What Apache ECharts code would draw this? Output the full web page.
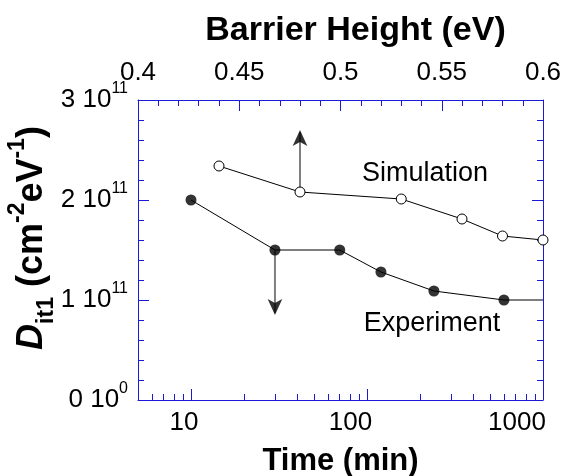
<!DOCTYPE html>
<html lang="en">
<head>
    <meta charset="UTF-8">
    <title>Dit1 vs time / barrier height</title>
    <script src="https://cdn.jsdelivr.net/npm/echarts@6.0.0/dist/echarts.min.js"></script>
    <style>
        html, body { margin: 0; padding: 0; background: #fff; }
        #chart { width: 569px; height: 476px; }
    </style>
</head>
<body>
    <div id="chart"></div>

    <script>
        // data
        const expTime = [10, 30, 70, 120, 240, 600];
        const expVal = [2.0e11, 1.5e11, 1.5e11, 1.28e11, 1.09e11, 1.0e11];
        const expTailTime = 1000;          // flat line continues to the right edge

        const simBarrier = [0.44, 0.48, 0.53, 0.56, 0.58, 0.60];
        const simVal = [2.34e11, 2.08e11, 2.01e11, 1.81e11, 1.64e11, 1.60e11];

        // arrows: [x, yFrom, yTo]
        const arrowSim = [0.48, 2.08e11, 2.78e11];
        const arrowExp = [30, 1.5e11, 0.77e11];

        const timeMajor = [10, 100, 1000];
        const timeMinor = [6, 7, 8, 9, 20, 30, 40, 50, 60, 70, 80, 90,
                           200, 300, 400, 500, 600, 700, 800, 900];

        const blue = '#1a1ad6';
        const font = 'Liberation Sans, Arial, sans-serif';

        const chart = echarts.init(document.getElementById('chart'));

        const expPts = expTime.map((t, i) => [t, expVal[i]]);
        const simPts = simBarrier.map((b, i) => [b, simVal[i]]);

        // grey pieces: flat steps between equal values, plus the tail
        const greyPieces = [];
        for (let i = 0; i < expVal.length - 1; i++) {
            if (expVal[i] === expVal[i + 1]) {
                greyPieces.push([expTime[i], expVal[i]], [expTime[i + 1], expVal[i + 1]], '-');
            }
        }
        const last = expVal.length - 1;
        greyPieces.push([expTime[last], expVal[last]], [expTailTime, expVal[last]]);

        const axisLineStyle = { show: true, lineStyle: { color: blue, width: 1 } };

        chart.setOption({
            animation: false,
            grid: { left: 138, right: 26, top: 100, bottom: 76, outerBoundsMode: 'none', containLabel: false },
            xAxis: [
                {   // time, major ticks
                    type: 'log', position: 'bottom', min: 5, max: 1000,
                    axisLine: axisLineStyle,
                    axisTick: { inside: true, length: 11, customValues: timeMajor, lineStyle: { color: blue } },
                    axisLabel: { show: false },
                    splitLine: { show: false },
                    name: 'Time (min)', nameLocation: 'middle', nameGap: 46, nameMoveOverlap: false,
                    nameTextStyle: { fontFamily: font, fontSize: 31, fontWeight: 'bold', color: '#000' }
                },
                {   // time, minor ticks
                    type: 'log', position: 'bottom', min: 5, max: 1000,
                    axisLine: { show: false },
                    axisTick: { inside: true, length: 6, customValues: timeMinor, lineStyle: { color: blue } },
                    axisLabel: { show: false },
                    splitLine: { show: false }
                },
                {   // time labels (placed where the original figure prints them)
                    type: 'log', position: 'bottom', min: 5.29, max: 1432,
                    axisLine: { show: false },
                    axisTick: { show: false },
                    axisLabel: {
                        customValues: timeMajor, margin: 10,
                        formatter: v => String(Math.round(v)),
                        fontFamily: font, fontSize: 26, color: '#000'
                    },
                    splitLine: { show: false }
                },
                {   // barrier height
                    type: 'value', position: 'top', min: 0.4, max: 0.6, interval: 0.05,
                    axisLine: axisLineStyle,
                    axisTick: { inside: true, length: 11, lineStyle: { color: blue } },
                    minorTick: { show: true, splitNumber: 5, length: 6, lineStyle: { color: blue } },
                    axisLabel: { margin: 14, fontFamily: font, fontSize: 26, color: '#000' },
                    splitLine: { show: false },
                    name: 'Barrier Height (eV)', nameLocation: 'middle', nameGap: 52, nameMoveOverlap: false,
                    nameTextStyle: {
                        fontFamily: font, fontSize: 34, fontWeight: 'bold', color: '#000',
                        padding: [0, 0, 0, 30]
                    }
                }
            ],
            yAxis: [
                {
                    type: 'value', position: 'left', min: 0, max: 3e11, interval: 1e11,
                    axisLine: axisLineStyle,
                    axisTick: { inside: true, length: 11, lineStyle: { color: blue } },
                    minorTick: { show: true, splitNumber: 5, length: 6, lineStyle: { color: blue } },
                    splitLine: { show: false },
                    axisLabel: {
                        margin: 10,
                        formatter: v => {
                            const n = Math.round(v / 1e11);
                            return n === 0 ? '{n|0 10}{s|0}' : '{n|' + n + ' 10}{s|11}';
                        },
                        rich: {
                            n: { fontFamily: font, fontSize: 26, color: '#000', lineHeight: 38 },
                            s: { fontFamily: font, fontSize: 16, color: '#000', verticalAlign: 'top', lineHeight: 16 }
                        }
                    },
                    name: '{d|D}{sub|it1}{m| (cm}{sup|-2}{m|eV}{sup|-1}{m|)}',
                    nameLocation: 'middle', nameGap: 80, nameRotate: 90, nameMoveOverlap: false,
                    nameTextStyle: {
                        padding: [0, 0, 0, 24],
                        rich: {
                            d: { fontFamily: font, fontSize: 36, fontWeight: 'bold', fontStyle: 'italic', color: '#000', lineHeight: 52 },
                            m: { fontFamily: font, fontSize: 36, fontWeight: 'bold', color: '#000', lineHeight: 52 },
                            sub: { fontFamily: font, fontSize: 23, fontWeight: 'bold', color: '#000', verticalAlign: 'bottom', lineHeight: 23 },
                            sup: { fontFamily: font, fontSize: 23, fontWeight: 'bold', color: '#000', verticalAlign: 'top', lineHeight: 23 }
                        }
                    }
                },
                {
                    type: 'value', position: 'right', min: 0, max: 3e11, interval: 1e11,
                    axisLine: axisLineStyle,
                    axisTick: { inside: true, length: 11, lineStyle: { color: blue } },
                    minorTick: { show: true, splitNumber: 5, length: 6, lineStyle: { color: blue } },
                    splitLine: { show: false },
                    axisLabel: { show: false }
                }
            ],
            graphic: [
                { type: 'text', x: 425, y: 174, style: { text: 'Simulation', fontFamily: font, fontSize: 27, fill: '#000', align: 'center', verticalAlign: 'middle' } },
                { type: 'text', x: 432, y: 324, style: { text: 'Experiment', fontFamily: font, fontSize: 27, fill: '#000', align: 'center', verticalAlign: 'middle' } }
            ],
            series: [
                {   // experiment connecting line
                    type: 'line', xAxisIndex: 0, yAxisIndex: 0, data: expPts,
                    showSymbol: false, symbol: 'none',
                    lineStyle: { color: '#000', width: 1 }, z: 2
                },
                {   // grey flat parts
                    type: 'line', xAxisIndex: 0, yAxisIndex: 0, data: greyPieces,
                    symbol: 'none', connectNulls: false,
                    lineStyle: { color: '#7f7f7f', width: 2 }, z: 3
                },
                {
                    name: 'Experiment', type: 'scatter', xAxisIndex: 0, yAxisIndex: 0, data: expPts,
                    symbol: 'circle', symbolSize: 11,
                    itemStyle: { color: '#000' }, z: 5
                },
                {
                    name: 'Simulation', type: 'line', xAxisIndex: 3, yAxisIndex: 0, data: simPts,
                    symbol: 'circle', symbolSize: 10, showAllSymbol: true,
                    lineStyle: { color: '#000', width: 1 },
                    itemStyle: { color: '#fff', borderColor: '#000', borderWidth: 1 }, z: 5
                },
                {   // arrow shafts
                    type: 'line', xAxisIndex: 3, yAxisIndex: 0, symbol: 'none',
                    data: [[arrowSim[0], arrowSim[1]], [arrowSim[0], arrowSim[2] - 0.1e11]],
                    lineStyle: { color: '#7f7f7f', width: 2 }, z: 4
                },
                {
                    type: 'line', xAxisIndex: 0, yAxisIndex: 0, symbol: 'none',
                    data: [[arrowExp[0], arrowExp[1]], [arrowExp[0], arrowExp[2] + 0.1e11]],
                    lineStyle: { color: '#7f7f7f', width: 2 }, z: 4
                },
                {   // arrow heads
                    type: 'scatter', xAxisIndex: 3, yAxisIndex: 0,
                    data: [[arrowSim[0], arrowSim[2]]],
                    symbol: 'arrow', symbolSize: [11, 16], symbolOffset: [0, 8],
                    itemStyle: { color: '#000' }, z: 6
                },
                {
                    type: 'scatter', xAxisIndex: 0, yAxisIndex: 0,
                    data: [[arrowExp[0], arrowExp[2]]],
                    symbol: 'arrow', symbolSize: [11, 16], symbolRotate: 180, symbolOffset: [0, -8],
                    itemStyle: { color: '#000' }, z: 6
                }
            ]
        });
    </script>
</body>
</html>
